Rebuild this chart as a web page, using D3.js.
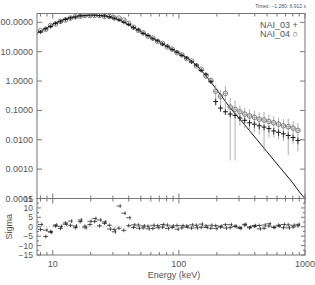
<!DOCTYPE html>
<html lang="en">
<head>
<meta charset="UTF-8">
<title>Spectrum fit</title>
<script src="https://d3js.org/d3.v7.min.js"></script>
<style>
  body { margin: 0; background: #fff; }
  text { font-family: "Liberation Sans", Arial, sans-serif; fill: #555; }
</style>
</head>
<body>
<svg id="chart" width="315" height="285"></svg>
<script>
// channel energies (keV)
const energies = [8.0, 8.8, 9.6, 10.5, 11.5, 12.6, 13.8, 15.1, 16.5, 18.0,
  19.7, 21.5, 23.5, 25.7, 28.1, 30.7, 33.5, 36.6, 40.0, 43.7,
  47.7, 52.1, 56.9, 62.2, 67.9, 74.2, 81.0, 88.5, 96.7, 105.6,
  115.3, 126.0, 137.6, 150.3, 164.2, 179.3, 195.9, 214.0, 233.7, 255.3,
  278.9, 304.6, 332.7, 363.4, 397.0, 433.6, 473.6, 517.3, 565.1, 617.2,
  674.2, 736.4, 804.4, 878.6];

// NAI_03 (+)
const n3Flux = [47, 60, 72, 92, 104, 126, 140, 150, 166, 170,
  174, 176, 170, 166, 156, 138, 120, 100, 85, 66,
  55, 42, 35.5, 27.5, 23.4, 18.2, 15.3, 11.8, 9.7, 7.5,
  6.1, 4.5, 3.5, 2.3, 1.7, 0.95, 0.2, 0.12, 0.09, 0.075,
  0.068, 0.055, 0.046, 0.038, 0.034, 0.03, 0.027, 0.024, 0.02, 0.018,
  0.016, 0.014, 0.012, 0.0095];
const n3Err = [2.5, 3, 3, 3.5, 4, 4, 4, 4.5, 4.5, 4.5,
  4.5, 4.5, 4.5, 4.5, 4.5, 4, 4, 3.5, 3, 2.6,
  2.2, 1.8, 1.5, 1.2, 1.0, 0.85, 0.7, 0.6, 0.5, 0.42,
  0.36, 0.3, 0.25, 0.2, 0.17, 0.14, 0.05, 0.03, 0.02, 0.016,
  0.014, 0.012, 0.01, 0.009, 0.008, 0.007, 0.006, 0.006, 0.005, 0.0045,
  0.004, 0.0035, 0.003, 0.0025];

// NAI_04 (o)
const n4Flux = [52, 58, 78, 88, 108, 120, 140, 155, 160, 172,
  170, 172, 172, 160, 158, 142, 140, 120, 92, 68,
  53, 44, 34, 29, 22.5, 19, 14.6, 12.3, 9.2, 7.8,
  5.8, 4.8, 3.3, 2.5, 1.5, 1.05, 0.45, 0.3, 0.38, 0.13,
  0.11, 0.09, 0.075, 0.065, 0.058, 0.05, 0.047, 0.042, 0.038, 0.034,
  0.03, 0.028, 0.025, 0.021];
const n4Err = [2.5, 3, 3, 3.5, 4, 4, 4, 4.5, 4.5, 4.5,
  4.5, 4.5, 4.5, 4.5, 4.5, 4, 4, 3.5, 3, 2.6,
  2.2, 1.8, 1.5, 1.2, 1.0, 0.85, 0.7, 0.6, 0.5, 0.42,
  0.36, 0.3, 0.25, 0.2, 0.3, 0.25, 0.3, 0.2, 0.3, 0.128,
  0.108, 0.06, 0.05, 0.045, 0.04, 0.035, 0.043, 0.03, 0.026, 0.024,
  0.021, 0.025, 0.018, 0.017];

// fitted model
const modelE = [7.5, 8, 9, 10, 11, 12, 13.5, 15, 17, 19, 22, 25, 28, 31, 35, 40, 45, 50,
  60, 70, 80, 90, 100, 120, 140, 160, 180, 200, 220, 260, 300, 400, 500, 600, 700,
  800, 900, 1000];
const modelF = [42, 50, 65, 85, 105, 122, 142, 158, 168, 173, 172, 165, 152, 135, 110, 82, 62, 48,
  31, 21.5, 15.5, 11.5, 8.8, 5.6, 3.2, 1.7, 0.9, 0.5, 0.29, 0.11, 0.055, 0.0124, 0.0039, 0.0015, 0.00068,
  0.00034, 0.00017, 0.0001];

// residuals (sigma)
const res3 = [-1.4, -5.2, -2.6, 0.4, -0.9, 2.0, 0.8, -0.5, 2.7, 0.3,
  1.2, 2.8, 0.5, 1.8, 0.8, -1.4, -0.8, -1.9, 0.6, -0.4,
  0.9, -0.6, 0.3, -0.9, 0.6, -0.2, 0.9, -0.4, 0.7, -0.6,
  0.4, -0.7, 0.8, -0.3, 0.5, -0.8, 0.6, -0.2, 1.1, -0.5,
  0.3, -0.4, 0.9, -0.6, 0.2, 0.7, -0.8, 0.4, -0.3, 0.8,
  -0.5, 1.0, -0.2, 0.5];
const res4 = [1.2, -1.8, -2.9, 0.9, 0.2, 1.3, 3.0, 0.4, 3.6, -0.6,
  2.9, 4.4, 3.6, 2.6, -1.2, -2.7, 11.0, 7.2, 4.8, 1.0,
  -0.8, 0.5, -1.1, 0.8, -0.5, 1.2, -0.9, 0.4, -1.3, 0.6,
  -0.2, 1.0, -0.6, 1.4, -0.4, 0.8, -1.0, 0.3, -0.7, 1.1,
  0.2, -0.9, 1.3, -0.1, 0.6, -1.1, 0.9, 1.6, -0.3, 0.4,
  1.2, -0.6, 0.8, 1.3];

const fluxTicks = [100, 10, 1, 0.1, 0.01, 0.001, 0.0001];
const fluxLabels = ["100.0000", "10.0000", "1.0000", "0.1000", "0.0100", "0.0010", "0.0001"];
const energyMajor = [10, 100, 1000];
const energyLabels = ["10", "100", "1000"];
const energyMinor = [8, 9, 20, 30, 40, 50, 60, 70, 80, 90, 200, 300, 400, 500, 600, 700, 800, 900];
const sigmaTicks = [-15, -10, -5, 0, 5, 10, 15];
const sigmaMinor = [-12.5, -7.5, -2.5, 2.5, 7.5, 12.5];

const L = 37, R = 305, T = 13.5, M = 198.5, B = 255;
const axisCol = "#777", dataCol = "#111", errCol = "#999";

const svg = d3.select("#chart");

const x = d3.scaleLog().domain([7.5, 1000]).range([L, R]);
const y = d3.scaleLog().domain([1e-4, 200]).range([M, T]);
const ys = d3.scaleLinear().domain([-15, 15]).range([B, M]);

svg.append("clipPath").attr("id", "top")
  .append("rect").attr("x", L).attr("y", T).attr("width", R - L).attr("height", M - T);
svg.append("clipPath").attr("id", "bot")
  .append("rect").attr("x", L).attr("y", M).attr("width", R - L).attr("height", B - M);

// bin edges from neighbouring channels
function edges(i) {
  const e = energies;
  const lo = i > 0 ? Math.sqrt(e[i - 1] * e[i]) : e[i] * e[i] / Math.sqrt(e[i] * e[i + 1]);
  const hi = i < e.length - 1 ? Math.sqrt(e[i] * e[i + 1]) : e[i] * e[i] / Math.sqrt(e[i - 1] * e[i]);
  return [lo, hi];
}

const gTop = svg.append("g").attr("clip-path", "url(#top)");

// model line
const line = d3.line().x((d, i) => x(modelE[i])).y(d => y(d)).curve(d3.curveMonotoneX);
gTop.append("path").datum(modelF).attr("d", line)
  .attr("fill", "none").attr("stroke", dataCol).attr("stroke-width", 1);

// NAI_04 circles with grey error bars
energies.forEach((e, i) => {
  const v = n4Flux[i], er = n4Err[i];
  const [lo, hi] = edges(i);
  const cx = x(e), cy = y(v);
  gTop.append("line").attr("x1", cx).attr("x2", cx)
    .attr("y1", y(v + er)).attr("y2", y(Math.max(v - er, 1e-5)))
    .attr("stroke", errCol).attr("stroke-width", 0.8);
  gTop.append("line").attr("x1", x(lo)).attr("x2", x(hi)).attr("y1", cy).attr("y2", cy)
    .attr("stroke", errCol).attr("stroke-width", 0.8);
  gTop.append("circle").attr("cx", cx).attr("cy", cy).attr("r", 2.3)
    .attr("fill", "none").attr("stroke", "#555").attr("stroke-width", 0.7);
});

// NAI_03 crosses
energies.forEach((e, i) => {
  const v = n3Flux[i], er = n3Err[i];
  const [lo, hi] = edges(i);
  const cx = x(e), cy = y(v);
  const y1 = Math.min(y(v + er), cy - 2), y2 = Math.max(y(v - er), cy + 2);
  gTop.append("line").attr("x1", cx).attr("x2", cx).attr("y1", y1).attr("y2", y2)
    .attr("stroke", dataCol).attr("stroke-width", 0.8);
  gTop.append("line").attr("x1", x(lo)).attr("x2", x(hi)).attr("y1", cy).attr("y2", cy)
    .attr("stroke", dataCol).attr("stroke-width", 1);
});

// residual panel
const gBot = svg.append("g").attr("clip-path", "url(#bot)");
gBot.append("line").attr("x1", L).attr("x2", R).attr("y1", ys(0)).attr("y2", ys(0))
  .attr("stroke", "#aaa").attr("stroke-width", 0.8).attr("stroke-dasharray", "1,2");
[res3, res4].forEach(res => {
  energies.forEach((e, i) => {
    const [lo, hi] = edges(i);
    const cx = x(e) + (res === res4 ? 1.2 : 0), cy = ys(res[i]);
    gBot.append("line").attr("x1", cx).attr("x2", cx).attr("y1", ys(res[i] + 1)).attr("y2", ys(res[i] - 1))
      .attr("stroke", dataCol).attr("stroke-width", 0.7);
    gBot.append("line").attr("x1", x(lo)).attr("x2", x(hi)).attr("y1", cy).attr("y2", cy)
      .attr("stroke", dataCol).attr("stroke-width", 0.7);
  });
});

// frames
[[T, M], [M, B]].forEach(([a, b]) => {
  svg.append("rect").attr("x", L).attr("y", a).attr("width", R - L).attr("height", b - a)
    .attr("fill", "none").attr("stroke", axisCol).attr("stroke-width", 1);
});

const ax = svg.append("g").attr("stroke", axisCol).attr("stroke-width", 1);
function tick(x1, y1, x2, y2) {
  ax.append("line").attr("x1", x1).attr("y1", y1).attr("x2", x2).attr("y2", y2);
}

// energy ticks on every horizontal edge
[[T, 1], [M, -1], [M, 1], [B, -1]].forEach(([yy, dir]) => {
  energyMajor.forEach(v => tick(x(v), yy, x(v), yy + dir * 5));
  energyMinor.forEach(v => tick(x(v), yy, x(v), yy + dir * 3));
});

// flux ticks + labels
fluxTicks.forEach((v, i) => {
  tick(L, y(v), L + 5, y(v));
  tick(R, y(v), R - 5, y(v));
  svg.append("text").attr("x", L - 4).attr("y", y(v) + 3)
    .attr("text-anchor", "end").attr("font-size", 9).text(fluxLabels[i]);
});

// sigma ticks + labels
sigmaTicks.forEach(v => {
  tick(L, ys(v), L + 4, ys(v));
  tick(R, ys(v), R - 4, ys(v));
  svg.append("text").attr("x", L - 4).attr("y", ys(v) + 3)
    .attr("text-anchor", "end").attr("font-size", 8.5).text(v < 0 ? "\u2212" + (-v) : v);
});
sigmaMinor.forEach(v => {
  tick(L, ys(v), L + 2, ys(v));
  tick(R, ys(v), R - 2, ys(v));
});

energyMajor.forEach((v, i) => {
  svg.append("text").attr("x", x(v)).attr("y", B + 11.5)
    .attr("text-anchor", "middle").attr("font-size", 9).text(energyLabels[i]);
});

svg.append("text").attr("x", (L + R) / 2 + 3).attr("y", 278)
  .attr("text-anchor", "middle").attr("font-size", 9).text("Energy (keV)");
svg.append("text").attr("transform", `translate(11.5,${(M + B) / 2}) rotate(-90)`)
  .attr("text-anchor", "middle").attr("font-size", 9).text("Sigma");

svg.append("text").attr("x", R + 1).attr("y", 8)
  .attr("text-anchor", "end").attr("font-size", 5).text("Times: \u22121.280: 6.912 s");

svg.append("text").attr("x", 260).attr("y", 28).attr("font-size", 9).text("NAI_03 +");
svg.append("text").attr("x", 260).attr("y", 37).attr("font-size", 9).text("NAI_04 \u25CB");
</script>
</body>
</html>
